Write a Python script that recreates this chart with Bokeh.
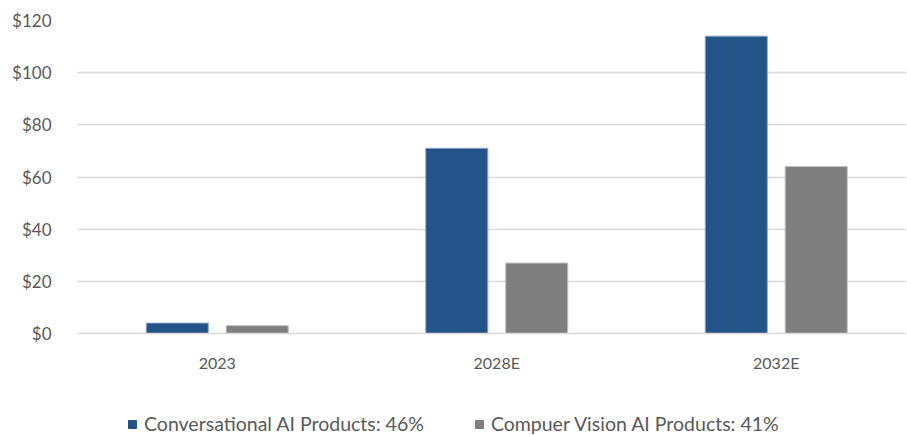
from bokeh.plotting import figure
from bokeh.layouts import column
from bokeh.models import (ColumnDataSource, Range1d, FixedTicker, NumeralTickFormatter,
                          Legend, LegendItem)
from bokeh.transform import dodge
from bokeh.embed import file_html
from bokeh.resources import INLINE

categories = ["2023", "2028E", "2032E"]
conversational = [4, 71, 114]
vision = [3, 27, 64]
series_names = ["Conversational AI Products: 46%", "Compuer Vision AI Products: 41%"]
series_colors = ["#245389", "#7f7f7f"]
y_ticks = [0, 20, 40, 60, 80, 100, 120]

xpos = [i + 0.5 for i in range(len(categories))]
src = ColumnDataSource(dict(x=xpos, conv=conversational, vis=vision))

FONT = "Lato"
TXT = "#595959"

p = figure(width=906, height=393, output_backend="svg", toolbar_location=None,
           x_range=Range1d(0, 2.966), y_range=Range1d(0, 120),
           min_border_left=77, min_border_right=0, min_border_top=20, min_border_bottom=60)
p.outline_line_color = None
p.background_fill_color = "white"

p.vbar(x=dodge("x", -0.143), top="conv", width=0.222, source=src,
       fill_color=series_colors[0], line_color="#8ea6c6", line_width=1)
p.vbar(x=dodge("x", 0.143), top="vis", width=0.222, source=src,
       fill_color=series_colors[1], line_color="#bfbfbf", line_width=1)

p.xgrid.grid_line_color = None
p.ygrid.grid_line_color = "#d9d9d9"
p.ygrid.grid_line_width = 1.5
p.yaxis.ticker = FixedTicker(ticks=y_ticks)
p.yaxis.formatter = NumeralTickFormatter(format="$0")
p.yaxis.axis_line_color = None
p.yaxis.major_tick_line_color = None
p.yaxis.minor_tick_line_color = None
p.yaxis.major_label_standoff = 20
p.yaxis.major_label_text_font = FONT
p.yaxis.major_label_text_font_size = "17px"
p.yaxis.major_label_text_color = TXT

p.xaxis.ticker = FixedTicker(ticks=xpos)
p.xaxis.major_label_overrides = {x: c for x, c in zip(xpos, categories)}
p.xaxis.axis_line_color = "#d9d9d9"
p.xaxis.axis_line_width = 1.5
p.xaxis.major_tick_line_color = None
p.xaxis.minor_tick_line_color = None
p.xaxis.major_label_standoff = 13
p.xaxis.major_label_text_font = FONT
p.xaxis.major_label_text_font_size = "16px"
p.xaxis.major_label_text_color = TXT

# legend strip (its bars lie far outside its visible range; only the legend shows)
p2 = figure(width=906, height=42, output_backend="svg", toolbar_location=None,
            x_range=Range1d(100, 101), y_range=Range1d(1000, 1001),
            x_axis_location=None, y_axis_location=None,
            min_border_left=0, min_border_right=0, min_border_top=0, min_border_bottom=0)
p2.outline_line_color = None
p2.xgrid.visible = False
p2.ygrid.visible = False
g1 = p2.vbar(x="x", top="conv", width=0.222, source=src,
             fill_color=series_colors[0], line_color=series_colors[0])
g2 = p2.vbar(x="x", top="vis", width=0.222, source=src,
             fill_color=series_colors[1], line_color=series_colors[1])
legend = Legend(items=[LegendItem(label=series_names[0], renderers=[g1]),
                       LegendItem(label=series_names[1], renderers=[g2])],
                orientation="horizontal", location=(50, 0),
                label_text_font=FONT, label_text_font_size="19.5px", label_text_color=TXT,
                glyph_width=10, glyph_height=10, spacing=50, label_standoff=7,
                border_line_color=None, background_fill_alpha=0,
                padding=0, margin=0)
p2.add_layout(legend, "center")

layout = column(p, p2, spacing=0)
open("out.html", "w").write(file_html(layout, INLINE))
